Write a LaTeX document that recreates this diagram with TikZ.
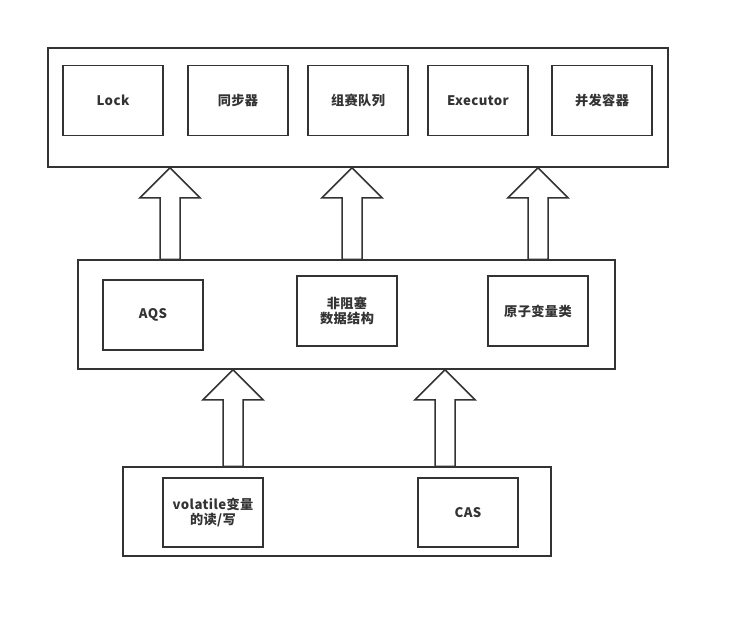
\documentclass[tikz,border=0pt]{standalone}
\usepackage{fontspec}
\setmainfont{Noto Sans CJK SC}[LetterSpace=3]
\usetikzlibrary{calc}
\definecolor{ink}{HTML}{333333}
\tikzset{
  outerbox/.style={draw=ink, line width=1.5pt, minimum width=#1, inner sep=0pt},
  innerbox/.style={draw=ink, line width=1.5pt, minimum width=100pt, minimum height=70pt, inner sep=0pt, align=center, text=ink, font=\fontsize{13.2}{15.5}\selectfont\bfseries},
  fatarrow/.style={draw=ink, line width=1.5pt, fill=white, line join=miter}
}
\newcommand\fatarrowfrom[2]{%
  \draw[fatarrow] ($(#1)+(-10,0)$) -- ($(#2)+(-10,30)$) -- ($(#2)+(-30,30)$) -- (#2)
   -- ($(#2)+(30,30)$) -- ($(#2)+(10,30)$) -- ($(#1)+(10,0)$) -- cycle;}
\begin{document}
\begin{tikzpicture}[x=1pt,y=-1pt]
\useasboundingbox (0,0) rectangle (730,619);
% top layer
\node[outerbox=620pt, minimum height=119pt] (top) at (358,107.5) {};
\node[innerbox] (lock) at (113,100.5) {Lock};
\node[innerbox] (sync) at (238,100.5) {同步器};
\node[innerbox] (queue) at (358,100.5) {组赛队列};
\node[innerbox] (exec) at (478,100.5) {Executor};
\node[innerbox] (cont) at (602,100.5) {并发容器};
% middle layer
\node[outerbox=537pt, minimum height=109pt] (mid) at (346.5,314.5) {};
\node[innerbox] (aqs) at (153,315) {AQS};
\node[innerbox] (nbds) at (347,311) {非阻塞\\数据结构};
\node[innerbox] (atomic) at (538,311) {原子变量类};
% bottom layer
\node[outerbox=428pt, minimum height=89pt] (bot) at (337,511.5) {};
\node[innerbox, minimum height=69pt] (vol) at (213,512.5) {volatile变量\\的读/写};
\node[innerbox, minimum height=69pt] (cas) at (468,512.5) {CAS};
% arrows
\coordinate (m1b) at (170,0 |- mid.north);
\coordinate (m1t) at (170,0 |- top.south);
\coordinate (m2b) at (352,0 |- mid.north);
\coordinate (m2t) at (352,0 |- top.south);
\coordinate (m3b) at (538,0 |- mid.north);
\coordinate (m3t) at (538,0 |- top.south);
\coordinate (b1b) at (233,0 |- bot.north);
\coordinate (b1t) at (233,0 |- mid.south);
\coordinate (b2b) at (445,0 |- bot.north);
\coordinate (b2t) at (445,0 |- mid.south);
\fatarrowfrom{m1b}{m1t}
\fatarrowfrom{m2b}{m2t}
\fatarrowfrom{m3b}{m3t}
\fatarrowfrom{b1b}{b1t}
\fatarrowfrom{b2b}{b2t}
\end{tikzpicture}
\end{document}
